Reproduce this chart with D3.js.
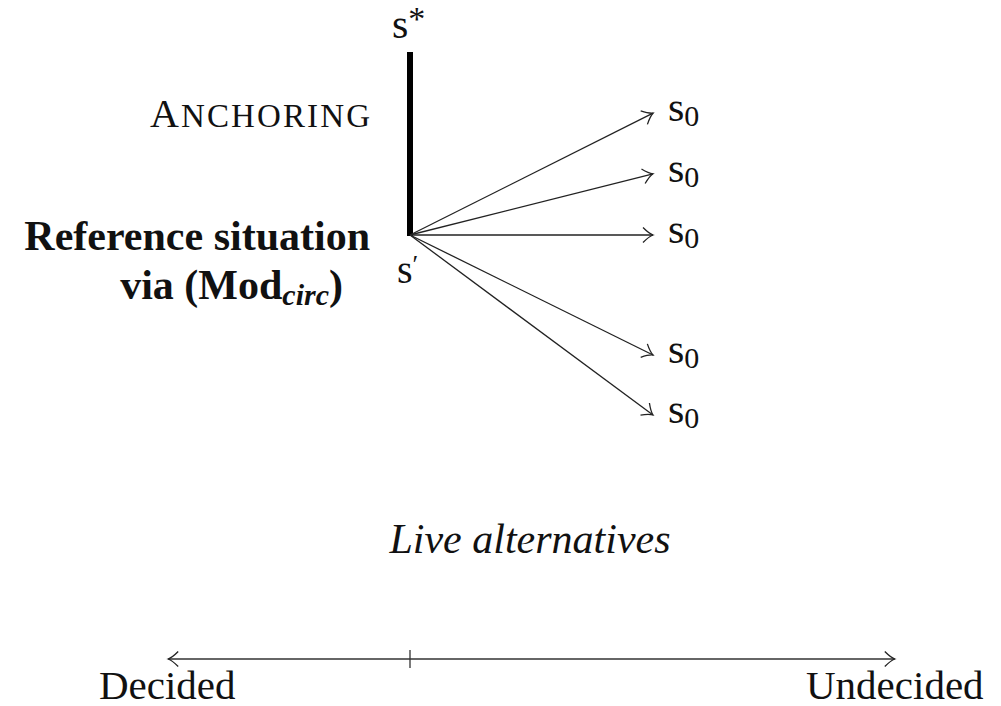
<!DOCTYPE html>
<html>
<head>
<meta charset="utf-8">
<script src="https://cdn.jsdelivr.net/npm/d3@7"></script>
<style>
  body { margin: 0; background: #fff; }
  text { font-family: "Liberation Serif", "DejaVu Serif", serif; fill: #111; }
</style>
</head>
<body>
<div id="chart"></div>
<script>
// diagram data
const origin = {x: 0, y: 0};          // s'
const anchorTop = 3.05;               // s* height (units above s')
const alternatives = [2.03, 1.02, 0, -2.0, -3.0];  // s0 endpoints (y units)
const altReach = 4.05;                // x units to arrow tips
const scaleEnds = ["Decided", "Undecided"];
const scaleDomain = [-4.03, 8.08];    // x units for the bottom axis
const scaleTick = [0];

const width = 1001;
const height = 706;

const svg = d3.select("#chart")
              .append("svg")
              .attr("width", width)
              .attr("height", height);

// one unit ~ 60px, s' sits at (410, 235)
const x = d3.scaleLinear().domain([0, 1]).range([410, 470]);
const y = d3.scaleLinear().domain([0, 1]).range([235, 175]);

svg.append("defs").append("marker")
    .attr("id", "head")
    .attr("viewBox", "0 0 14 18")
    .attr("refX", 12).attr("refY", 9)
    .attr("markerWidth", 14).attr("markerHeight", 18)
    .attr("markerUnits", "userSpaceOnUse")
    .attr("orient", "auto-start-reverse")
  .append("path")
    .attr("d", "M2,1.5 Q8,7.5 12,9 Q8,10.5 2,16.5")
    .attr("fill", "none")
    .attr("stroke", "#222")
    .attr("stroke-width", 1.3);

// anchoring line
svg.append("line")
    .attr("x1", x(origin.x)).attr("y1", y(origin.y) + 1)
    .attr("x2", x(origin.x)).attr("y2", y(anchorTop))
    .attr("stroke", "#000")
    .attr("stroke-width", 6);

// live alternatives
svg.selectAll("line.alt")
  .data(alternatives)
  .join("line")
    .attr("class", "alt")
    .attr("x1", x(origin.x)).attr("y1", y(origin.y))
    .attr("x2", x(altReach)).attr("y2", d => y(d))
    .attr("stroke", "#222")
    .attr("stroke-width", 1.3)
    .attr("marker-end", "url(#head)");

svg.selectAll("text.s0")
  .data(alternatives)
  .join("text")
    .attr("class", "s0")
    .attr("x", x(altReach) + 15)
    .attr("y", d => y(d) + 8)
    .style("font-size", "42px")
    .html("s<tspan dy='5' style='font-size:30px'>0</tspan>");

svg.append("text")
    .attr("x", 392).attr("y", 38)
    .style("font-size", "42px")
    .html("s<tspan dy='-8' style='font-size:34px'>*</tspan>");

svg.append("text")
    .attr("x", 397).attr("y", 283)
    .style("font-size", "40px")
    .html("s<tspan dy='-10' style='font-size:26px'>′</tspan>");

svg.append("text")
    .attr("x", 150).attr("y", 127)
    .attr("textLength", 220)
    .attr("lengthAdjust", "spacing")
    .style("font-size", "33px")
    .html("<tspan style='font-size:40px'>A</tspan>NCHORING");

svg.append("text")
    .attr("x", 370).attr("y", 250)
    .attr("text-anchor", "end")
    .style("font-size", "42px")
    .style("font-weight", "bold")
    .text("Reference situation");

svg.append("text")
    .attr("x", 343).attr("y", 299)
    .attr("text-anchor", "end")
    .style("font-size", "42px")
    .style("font-weight", "bold")
    .html("via (Mod<tspan dy='6' style='font-size:30px;font-style:italic'>circ</tspan><tspan dy='-6'>)</tspan>");

svg.append("text")
    .attr("x", 530).attr("y", 553)
    .attr("text-anchor", "middle")
    .style("font-size", "42px")
    .style("font-style", "italic")
    .text("Live alternatives");

// bottom axis
const axisY = 659;
svg.append("line")
    .attr("x1", x(scaleDomain[0])).attr("y1", axisY)
    .attr("x2", x(scaleDomain[1])).attr("y2", axisY)
    .attr("stroke", "#333")
    .attr("stroke-width", 1.3)
    .attr("marker-start", "url(#head)")
    .attr("marker-end", "url(#head)");

svg.selectAll("line.tick")
  .data(scaleTick)
  .join("line")
    .attr("class", "tick")
    .attr("x1", d => x(d)).attr("x2", d => x(d))
    .attr("y1", axisY - 9).attr("y2", axisY + 9)
    .attr("stroke", "#333")
    .attr("stroke-width", 1.3);

svg.selectAll("text.end")
  .data(scaleEnds)
  .join("text")
    .attr("class", "end")
    .attr("x", (d, i) => x(scaleDomain[i]) + (i ? 0 : -1))
    .attr("y", 699)
    .attr("text-anchor", "middle")
    .style("font-size", "41px")
    .text(d => d);
</script>
</body>
</html>
